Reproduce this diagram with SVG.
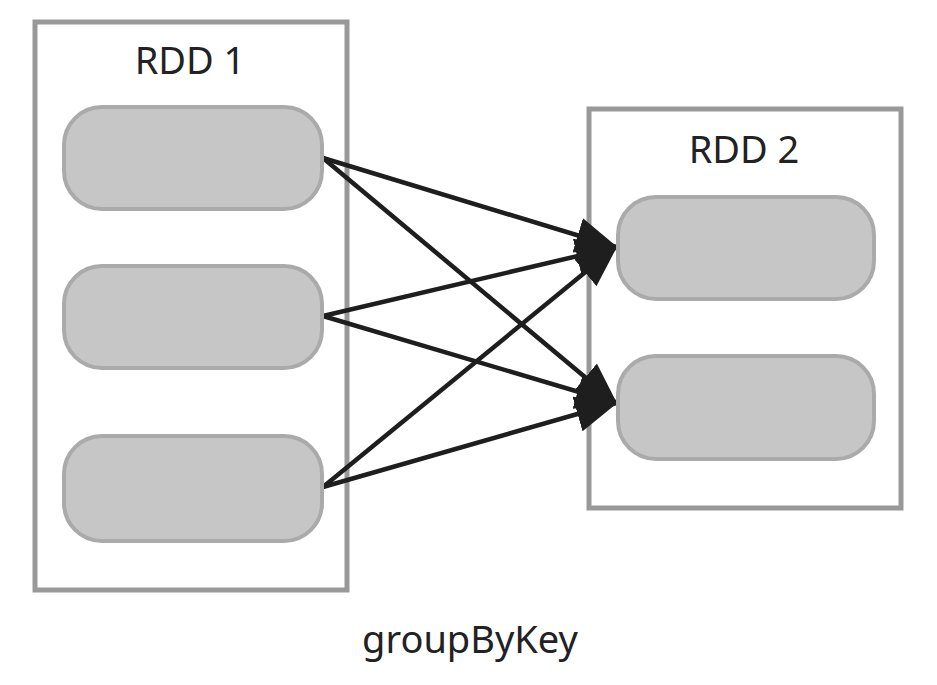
<svg xmlns="http://www.w3.org/2000/svg" width="937" height="685" viewBox="0 0 937 685">
  <style>
    .box { fill: #ffffff; stroke: #999999; stroke-width: 5; }
    .part { fill: #c6c6c6; stroke: #aaaaaa; stroke-width: 4; }
    .title { font-family: "Noto Sans", "Open Sans", sans-serif; font-size: 38px; fill: #222222; text-anchor: middle; }
    .edge { stroke: #1e1e1e; stroke-width: 4.5; fill: none; marker-end: url(#arrow); }
  </style>
  <defs>
    <marker id="arrow" viewBox="0 0 42 36" refX="40" refY="18" markerWidth="42" markerHeight="36" markerUnits="userSpaceOnUse" orient="auto">
      <path d="M0,0 L42,18 L0,36 z" fill="#1e1e1e"/>
    </marker>
  </defs>
  <rect width="937" height="685" fill="#ffffff"/>

  <g id="rdd1">
    <rect class="box" x="35" y="22" width="312" height="568"/>
    <text class="title" x="190" y="74">RDD 1</text>
  </g>
  <g id="rdd2">
    <rect class="box" x="589" y="109" width="312" height="399"/>
    <text class="title" x="744" y="163">RDD 2</text>
  </g>

  <g id="connectors">
    <line class="edge" x1="323" y1="158" x2="616" y2="247"/>
    <line class="edge" x1="323" y1="158" x2="616" y2="403"/>
    <line class="edge" x1="323" y1="316" x2="616" y2="247"/>
    <line class="edge" x1="323" y1="316" x2="616" y2="403"/>
    <line class="edge" x1="323" y1="487" x2="616" y2="247"/>
    <line class="edge" x1="323" y1="487" x2="616" y2="403"/>
  </g>

  <g id="rdd1-p1"><rect class="part" x="64" y="107" width="258" height="102" rx="38"/></g>
  <g id="rdd1-p2"><rect class="part" x="64" y="266" width="258" height="102" rx="38"/></g>
  <g id="rdd1-p3"><rect class="part" x="64" y="436" width="258" height="105" rx="38"/></g>
  <g id="rdd2-p1"><rect class="part" x="618" y="197" width="256" height="102" rx="38"/></g>
  <g id="rdd2-p2"><rect class="part" x="618" y="356" width="256" height="103" rx="38"/></g>

  <g id="caption">
    <text class="title" x="470" y="653">groupByKey</text>
  </g>
</svg>
